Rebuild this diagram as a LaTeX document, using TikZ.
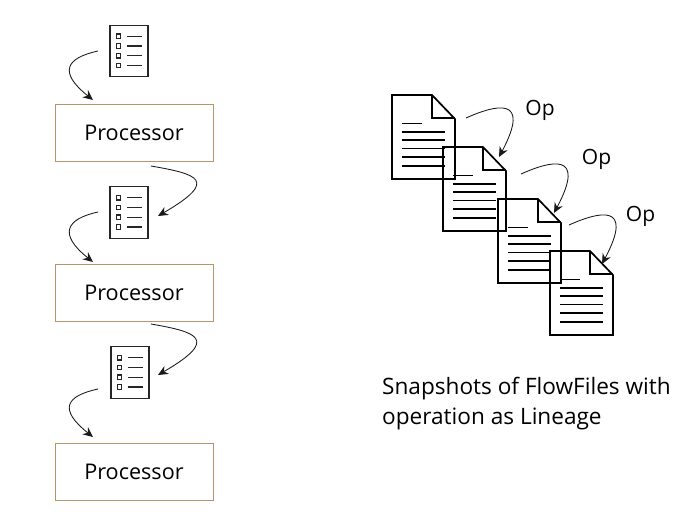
\documentclass[tikz,border=0pt]{standalone}
\usepackage{fontspec}
\setmainfont{Open Sans}
\definecolor{boxtan}{HTML}{B8966A}
\usetikzlibrary{arrows.meta,calc}
\tikzset{
  x=1pt,y=-1pt,
  procbox/.style={draw=boxtan,line width=0.9pt,minimum width=158pt,minimum height=57.5pt,inner sep=0pt,font=\fontsize{21.6}{24}\selectfont,text=black},
  listicon/.style={draw=black!85,line width=1.3pt,minimum width=38pt,minimum height=51.5pt,inner sep=0pt},
  flow/.style={draw=black!90,line width=0.85pt,-{Stealth[length=10pt,width=9pt]}},
  docline/.style={draw=black,line width=1.5pt},
  docshape/.style={draw=black,line width=1.7pt,line join=miter},
  optext/.style={inner sep=0pt,font=\fontsize{21}{24}\selectfont,text=black},
  captext/.style={inner sep=0pt,anchor=west,font=\fontsize{22.6}{26}\selectfont,text=black},
  tickbox/.style={draw=black!85,line width=1.2pt},
  tickline/.style={draw=black!85,line width=1.1pt}
}
\newcommand{\listmarks}[1]{%
  \foreach \yy in {-14.8,-5,4.7,14.5}{
    \draw[tickbox] ($(#1)+(-10.5,\yy)+(-2.3,-2.3)$) rectangle ($(#1)+(-10.5,\yy)+(2.3,2.3)$);
    \draw[tickline] ($(#1)+(-2,\yy)$) -- ($(#1)+(13,\yy)$);
  }}
\newcommand{\docdraw}[1]{%
  \begin{scope}[shift={(#1)}]
    \draw[docshape] (0,0) -- (40,0) -- (63,24) -- (63,84) -- (0,84) -- cycle;
    \draw[docshape] (40,0) -- (40,23) -- (63,23);
    \draw[docline] (10,28.7) -- (30,28.7);
    \foreach \yy in {37,45,53.5,62,71}{\draw[docline] (10,\yy) -- (53,\yy);}
  \end{scope}}
\begin{document}
\begin{tikzpicture}
\useasboundingbox (0,0) rectangle (700,514);
\fill[white] (0,0) rectangle (700,514);
\node[procbox] (p1) at (134,133) {\raisebox{-2pt}{Processor}};
\node[procbox] (p2) at (134,293) {\raisebox{-2pt}{Processor}};
\node[procbox] (p3) at (134,472) {\raisebox{-2pt}{Processor}};
\node[listicon] (l1) at (129,51) {};
\node[listicon] (l2) at (129,212.5) {};
\node[listicon] (l3) at (130,372.5) {};
\listmarks{l1}
\listmarks{l2}
\listmarks{l3}
\coordinate (a1s) at (98,51);
\coordinate (a1e) at (93,100);
\coordinate (a2s) at (151,166);
\coordinate (a2e) at (158,216);
\coordinate (a3s) at (98,212);
\coordinate (a3e) at (93,262);
\coordinate (a4s) at (151,324);
\coordinate (a4e) at (158,375);
\coordinate (a5s) at (98,389);
\coordinate (a5e) at (93,437);
\draw[flow] (a1s) .. controls +(-32,7) and +(-35,-28) .. (a1e);
\draw[flow] (a2s) .. controls +(46,8) and +(62,-36) .. (a2e);
\draw[flow] (a3s) .. controls +(-32,7) and +(-35,-28) .. (a3e);
\draw[flow] (a4s) .. controls +(46,8) and +(62,-36) .. (a4e);
\draw[flow] (a5s) .. controls +(-32,7) and +(-35,-28) .. (a5e);
\docdraw{392,95}
\docdraw{443,147}
\docdraw{498,199}
\docdraw{550,251}
\coordinate (b1s) at (466,118);
\coordinate (b1e) at (499,157);
\coordinate (b2s) at (521,174);
\coordinate (b2e) at (554,213);
\coordinate (b3s) at (569,225);
\coordinate (b3e) at (602,264);
\draw[flow] (b1s) .. controls +(29,-13) and +(33,-62) .. (b1e);
\draw[flow] (b2s) .. controls +(29,-13) and +(33,-62) .. (b2e);
\draw[flow] (b3s) .. controls +(29,-13) and +(33,-62) .. (b3e);
\node[optext] (o1) at (540,110) {Op};
\node[optext] (o2) at (596.5,159) {Op};
\node[optext] (o3) at (640.5,216) {Op};
\node[captext] (c1) at (382,389) {Snapshots of FlowFiles with};
\node[captext] (c2) at (382,419) {operation as Lineage};
\end{tikzpicture}
\end{document}
